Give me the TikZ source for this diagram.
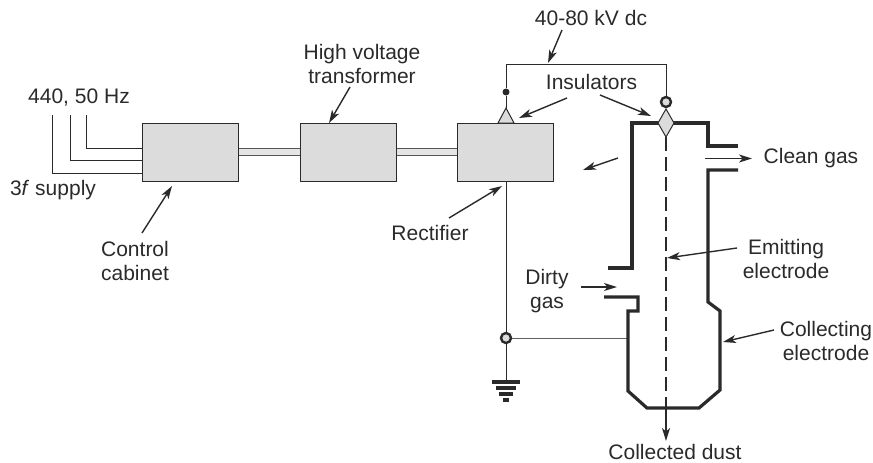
\documentclass[tikz,border=0pt]{standalone}
\usepackage{fontspec}
\setmainfont{Liberation Sans}
\usetikzlibrary{arrows.meta}
\definecolor{inkgray}{HTML}{2A2A2A}
\definecolor{boxgray}{HTML}{DCDCDC}

\begin{document}
\begin{tikzpicture}[
    x=1pt, y=-1pt,
    >={Stealth[length=13pt,width=8pt,inset=3.5pt]},
    % Styles
    unitbox/.style={
        rectangle, draw=inkgray, line width=1pt,
        fill=boxgray, inner sep=0pt,
        minimum width=96pt, minimum height=58pt
    },
    label/.style={
        font=\fontsize{21}{23.5}\selectfont,
        text=inkgray, align=center, inner sep=0pt
    },
    wire/.style={draw=inkgray, line width=1pt},
    shell/.style={draw=inkgray, line width=3.2pt, line join=miter},
    pointer/.style={->, draw=inkgray, line width=1.4pt},
    link/.style={draw=inkgray!80, line width=1.2pt, double=gray!20, double distance=6pt},
    terminal/.style={
        circle, draw=inkgray, line width=2.4pt, fill=boxgray,
        minimum size=10pt, inner sep=0pt
    },
    insulator/.style={draw=inkgray, line width=1pt, fill=boxgray},
    earthbar/.style={draw=inkgray, line cap=butt}
]
\useasboundingbox (0,0) rectangle (873,463);

% ── LABELS ──
\node[label] (mains) at (79,98) {440, 50 Hz};
\node[label] (supply) at (53,190) {3\textit{f} supply};
\node[label] (cabinetlabel) at (135,261) {Control\\cabinet};
\node[label] (hvlabel) at (362,64) {High voltage\\transformer};
\node[label] (rectlabel) at (430,233) {Rectifier};
\node[label] (dclabel) at (591,18) {40-80 kV dc};
\node[label] (inslabel) at (591.5,82) {Insulators};
\node[label] (cleanlabel) at (811,158) {Clean gas};
\node[label] (emitlabel) at (786,259) {Emitting\\electrode};
\node[label] (dirtylabel) at (547,291) {Dirty\\gas};
\node[label] (colllabel) at (826,341) {Collecting\\electrode};
\node[label] (dustlabel) at (675,452) {Collected dust};

% ── SUPPLY AND UNITS ──
\draw[link] (238,152) -- (300,152);
\draw[link] (396,152) -- (457,152);

\node[unitbox] (cabinet) at (190,152) {};
\node[unitbox] (transformer) at (348,152) {};
\node[unitbox] (rectifier) at (505.5,152) {};

\coordinate (supA) at (52,115);
\coordinate (supB) at (70,115);
\coordinate (supC) at (86,115);
\coordinate (inA) at (142,173);
\coordinate (inB) at (142,160);
\coordinate (inC) at (142,148);
\draw[wire] (supA) |- (inA);
\draw[wire] (supB) |- (inB);
\draw[wire] (supC) |- (inC);

% ── HIGH VOLTAGE WIRING ──
\coordinate (hvleft) at (506,64);
\coordinate (hvright) at (666,64);
\node[circle, fill=inkgray, minimum size=7pt, inner sep=0pt] (dot) at (506,92) {};
\node[terminal] (topring) at (666,102) {};
\node[terminal] (earthring) at (506,338) {};
\coordinate (earthpoint) at (506,381);

\draw[wire] (dot) -- (hvleft) -- (hvright) -- (topring);
\draw[wire] (rectifier.south -| earthring) -- (earthring) -- (earthpoint);

\draw[insulator] (506,108) -- (514,123) -- (498,123) -- cycle;
\coordinate (tipA) at (506,108);
\draw[wire] (dot) -- (tipA);

\draw[earthbar, line width=3.6pt] (492,382) -- (520,382);
\draw[earthbar, line width=3.2pt] (496,388) -- (516,388);
\draw[earthbar, line width=3.2pt] (499,394) -- (513,394);
\draw[earthbar, line width=3.2pt] (503,400) -- (509,400);

% ── PRECIPITATOR ──
\coordinate (shellin) at (628,338);
\draw[wire, draw=inkgray!75] (earthring) -- (shellin);

\draw[shell] (608,268) -- (632,268) -- (632,123) -- (708,123) -- (708,146) -- (738,146);
\draw[shell] (738,170) -- (708,170) -- (708,302) -- (720,311) -- (720,390) -- (699,408)
    -- (647,408) -- (628,391) -- (628,311) -- (638,311) -- (638,297) -- (604,297);

\coordinate (emitbase) at (666,408);
\coordinate (dusttip) at (666,441);
\draw[draw=inkgray, line width=1.6pt, dash pattern=on 14pt off 6pt] (666,137) -- (emitbase);
\draw[pointer] (emitbase) -- (dusttip);

\draw[insulator] (666,109) -- (674,123) -- (666,137) -- (658,123) -- cycle;

% ── POINTERS ──
\coordinate (cabinetfrom) at (142,233);
\coordinate (cabinetto) at (172,186);
\coordinate (hvfrom) at (350,87);
\coordinate (hvto) at (329,123);
\coordinate (rectfrom) at (449,218);
\coordinate (rectto) at (502,186);
\coordinate (dcfrom) at (562,30);
\coordinate (dcto) at (548,63);
\coordinate (insfromA) at (567,98);
\coordinate (instoA) at (519,118);
\coordinate (insfromB) at (600,95);
\coordinate (instoB) at (651,116);
\coordinate (flowfrom) at (618,158);
\coordinate (flowto) at (583,170);
\coordinate (cleanfrom) at (705,158.5);
\coordinate (cleanto) at (752,158.5);
\coordinate (emitfrom) at (737,248);
\coordinate (emitto) at (667,258);
\coordinate (dirtyfrom) at (581,287);
\coordinate (dirtyto) at (617,287);
\coordinate (collfrom) at (774,330);
\coordinate (collto) at (723,342);

\draw[pointer] (cabinetfrom) -- (cabinetto);
\draw[pointer] (hvfrom) -- (hvto);
\draw[pointer] (rectfrom) -- (rectto);
\draw[pointer] (dcfrom) -- (dcto);
\draw[pointer] (insfromA) -- (instoA);
\draw[pointer] (insfromB) -- (instoB);
\draw[pointer] (flowfrom) -- (flowto);
\draw[pointer] (cleanfrom) -- (cleanto);
\draw[pointer] (emitfrom) -- (emitto);
\draw[pointer] (dirtyfrom) -- (dirtyto);
\draw[pointer] (collfrom) -- (collto);

\end{tikzpicture}
\end{document}
